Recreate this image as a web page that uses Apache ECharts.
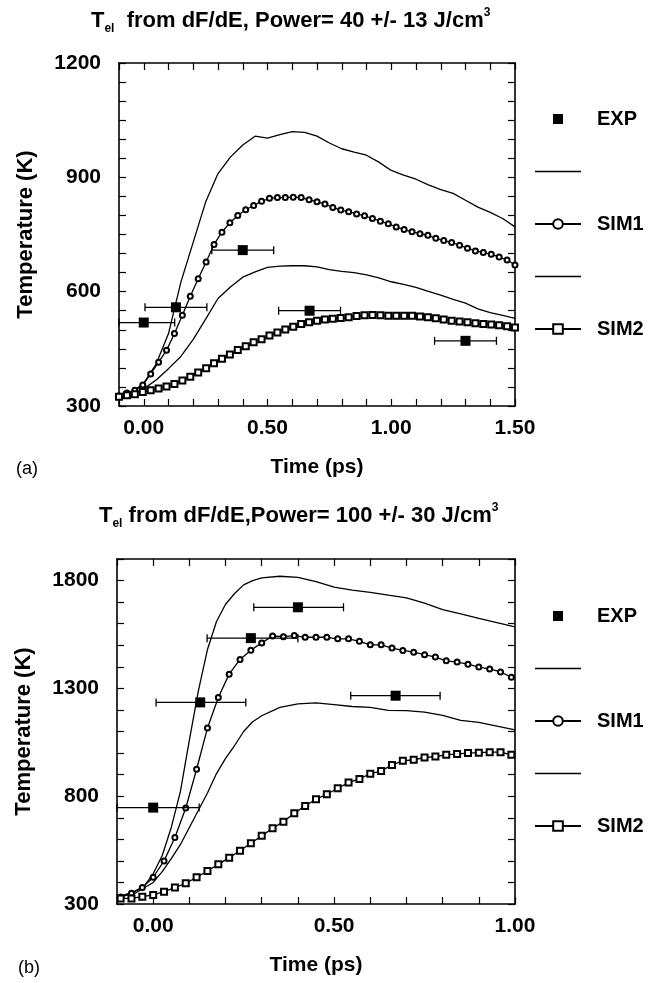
<!DOCTYPE html>
<html>
<head>
<meta charset="utf-8">
<script src="https://cdn.jsdelivr.net/npm/echarts@6/dist/echarts.min.js"></script>
<style>html,body{margin:0;background:#fff}#chart{width:650px;height:983px}</style>
</head>
<body>
<div id="chart"></div>
<script>
// ---- panel (a): Power = 40 +/- 13 J/cm3 ----
const aExpT    = [0.00, 0.13, 0.40, 0.67, 1.30];
const aExpTemp = [519, 559, 709, 550, 471];
const aExpLow  = [-0.10, 0.005, 0.275, 0.545, 1.175];
const aExpHigh = [0.125, 0.255, 0.525, 0.795, 1.425];

const aUpperT = [-0.1,-0.05,0,0.05,0.1,0.15,0.2,0.25,0.3,0.35,0.4,0.45,0.5,0.55,0.6,0.65,0.7,0.75,0.8,0.85,0.9,0.95,1.0,1.05,1.1,1.15,1.2,1.25,1.3,1.35,1.4,1.45,1.5];
const aUpper  = [325,335,360,410,490,625,730,835,910,953,985,1008,1003,1012,1020,1018,1008,990,975,966,958,940,918,906,895,880,868,858,840,822,808,792,770];
const aLowerT = aUpperT;
const aLower  = [322,330,345,368,398,430,475,528,582,612,638,652,664,667,668,668,665,658,653,650,644,636,626,619,611,601,591,580,570,555,545,538,530];

const aSimT = [-0.1,-0.068,-0.036,-0.004,0.028,0.06,0.092,0.124,0.156,0.188,0.22,0.252,0.284,0.316,0.348,0.38,0.412,0.444,0.476,0.508,0.54,0.572,0.604,0.636,0.668,0.7,0.732,0.764,0.796,0.828,0.86,0.892,0.924,0.956,0.988,1.02,1.052,1.084,1.116,1.148,1.18,1.212,1.244,1.276,1.308,1.34,1.372,1.404,1.436,1.468,1.5];
const aSim1 = [326,334,341,355,384,415,446,490,538,588,634,678,724,756,781,800,815,826,837,845,847,847,848,847,841,836,830,821,814,810,804,799,792,785,778,770,763,757,752,748,740,734,729,722,714,707,703,698,691,683,670];
const aSim2 = [324,328,331,337,341,346,351,358,367,377,388,399,412,424,435,447,457,467,475,485,493,501,508,515,520,524,527,529,531,533,536,538,539,538,537,537,537,537,535,533,530,527,524,522,520,517,515,514,512,509,506];

// ---- panel (b): Power = 100 +/- 30 J/cm3 ----
const bExpT    = [0.00, 0.13, 0.27, 0.40, 0.67];
const bExpTemp = [747, 1235, 1533, 1676, 1266];
const bExpLow  = [-0.10, 0.008, 0.149, 0.278, 0.546];
const bExpHigh = [0.127, 0.256, 0.400, 0.526, 0.793];

const bUpperT = [-0.1,-0.075,-0.05,-0.025,0,0.025,0.05,0.075,0.1,0.125,0.15,0.175,0.2,0.225,0.25,0.275,0.3,0.35,0.4,0.45,0.5,0.55,0.6,0.65,0.7,0.75,0.8,0.85,0.9,0.95,1.0];
const bUpper  = [330,345,360,383,440,525,655,820,1060,1290,1480,1610,1690,1740,1780,1800,1812,1820,1815,1795,1770,1756,1745,1732,1720,1695,1665,1645,1625,1605,1585];
const bLowerT = [-0.1,-0.05,0,0.025,0.05,0.075,0.1,0.125,0.15,0.175,0.2,0.225,0.25,0.275,0.3,0.35,0.4,0.45,0.5,0.55,0.6,0.65,0.7,0.75,0.8,0.85,0.9,0.95,1.0];
const bLower  = [330,350,400,450,510,575,655,735,815,905,975,1035,1100,1145,1173,1212,1228,1233,1225,1216,1212,1198,1197,1190,1175,1152,1142,1125,1108];

const bSimT = [-0.09,-0.06,-0.03,0,0.03,0.06,0.09,0.12,0.15,0.18,0.21,0.24,0.27,0.30,0.33,0.36,0.39,0.42,0.45,0.48,0.51,0.54,0.57,0.60,0.63,0.66,0.69,0.72,0.75,0.78,0.81,0.84,0.87,0.90,0.93,0.96,0.99];
const bSim1 = [332,350,376,424,500,608,745,925,1116,1258,1366,1434,1477,1511,1543,1540,1545,1537,1537,1537,1530,1530,1518,1502,1502,1487,1476,1468,1456,1445,1428,1422,1412,1399,1390,1376,1352];
const bSim2 = [326,326,334,342,357,376,396,424,453,484,515,547,582,616,651,682,721,755,786,809,837,863,880,904,917,945,964,969,979,984,992,996,1000,1002,1004,1004,992];

const FONT = 'Liberation Sans, Arial, Helvetica, sans-serif';
const lineIcon = 'path://M0,0H46V1.3H0Z';
const expIcon = 'path://M0,0L0,0ZM1,1H11V11H1ZM12,12L12,12Z';

function pairs(xs, ys) { return xs.map((x, i) => [x, ys[i]]); }

function expRender(params, api) {
  const y = api.value(1);
  const p = api.coord([api.value(0), y]);
  const l = api.coord([api.value(2), y]);
  const h = api.coord([api.value(3), y]);
  const st = { stroke: '#000', lineWidth: 1.3 };
  return {
    type: 'group',
    children: [
      { type: 'line', shape: { x1: l[0], y1: l[1], x2: h[0], y2: h[1] }, style: st },
      { type: 'line', shape: { x1: l[0], y1: l[1] - 4, x2: l[0], y2: l[1] + 4 }, style: st },
      { type: 'line', shape: { x1: h[0], y1: h[1] - 4, x2: h[0], y2: h[1] + 4 }, style: st },
      { type: 'rect', shape: { x: p[0] - 5, y: p[1] - 5, width: 10, height: 10 }, style: { fill: '#000' } }
    ]
  };
}

const labelStyle = { color: '#000', fontFamily: FONT, fontWeight: 'bold', fontSize: 21 };
const axLine = { show: true, onZero: false, lineStyle: { color: '#000', width: 1.6 } };
const axTick = { show: true, inside: true, length: 7, lineStyle: { color: '#000', width: 1.2 } };

function xLabel(v) {
  const r = Math.round(v * 100);
  return r % 50 === 0 ? (r / 100).toFixed(2) : '';
}

function xAxes(gi, max) {
  return [
    { gridIndex: gi, type: 'value', min: -0.1, max: max, interval: 0.1, position: 'bottom',
      axisLine: axLine, axisTick: axTick, splitLine: { show: false },
      axisLabel: Object.assign({ margin: 12, formatter: xLabel }, labelStyle),
      name: 'Time (ps)', nameLocation: 'middle', nameGap: 51,
      nameTextStyle: { color: '#000', fontFamily: FONT, fontWeight: 'bold', fontSize: 21 } },
    { gridIndex: gi, type: 'value', min: -0.1, max: max, interval: 0.1, position: 'top',
      axisLine: axLine, axisTick: axTick, splitLine: { show: false }, axisLabel: { show: false } }
  ];
}

function yAxes(gi, max, interval, step) {
  return [
    { gridIndex: gi, type: 'value', min: 300, max: max, interval: interval, position: 'left',
      axisLine: axLine, axisTick: axTick, splitLine: { show: false },
      axisLabel: Object.assign({ margin: 18,
        formatter: v => ((v - 300) % step === 0 ? String(v) : '') }, labelStyle),
      name: 'Temperature (K)', nameLocation: 'middle', nameGap: 82,
      nameTextStyle: { color: '#000', fontFamily: FONT, fontWeight: 'bold', fontSize: 22 } },
    { gridIndex: gi, type: 'value', min: 300, max: max, interval: interval, position: 'right',
      axisLine: axLine, axisTick: axTick, splitLine: { show: false }, axisLabel: { show: false } }
  ];
}

function panelSeries(ax, d) {
  const lineStyle = { color: '#000', width: 1.3 };
  return [
    { name: 'EXP', type: 'custom', xAxisIndex: ax, yAxisIndex: ax, renderItem: expRender,
      itemStyle: { color: '#000' }, encode: { x: 0, y: 1 },
      data: d.expT.map((t, i) => [t, d.expTemp[i], d.expLow[i], d.expHigh[i]]), z: 5 },
    { name: ' ', type: 'line', xAxisIndex: ax, yAxisIndex: ax, symbol: 'none',
      itemStyle: { color: '#000' }, lineStyle: lineStyle, data: pairs(d.upperT, d.upper) },
    { name: 'SIM1', type: 'line', xAxisIndex: ax, yAxisIndex: ax, symbol: 'emptyCircle', symbolSize: 5,
      itemStyle: { color: '#000', borderWidth: 2 }, lineStyle: lineStyle, data: pairs(d.simT, d.sim1) },
    { name: '  ', type: 'line', xAxisIndex: ax, yAxisIndex: ax, symbol: 'none',
      itemStyle: { color: '#000' }, lineStyle: lineStyle, data: pairs(d.lowerT, d.lower) },
    { name: 'SIM2', type: 'line', xAxisIndex: ax, yAxisIndex: ax, symbol: 'emptyRect', symbolSize: 6,
      itemStyle: { color: '#000', borderWidth: 1.2 }, lineStyle: lineStyle, data: pairs(d.simT, d.sim2) }
  ];
}

function legend(top) {
  return {
    orient: 'vertical', left: 534, top: top, padding: 0, selectedMode: false,
    itemWidth: 46, itemHeight: 12, itemGap: 32.5,
    textStyle: { color: '#000', fontFamily: FONT, fontWeight: 'bold', fontSize: 20, lineHeight: 20, padding: [0, 0, 0, 11] },
    data: [{ name: 'EXP', icon: expIcon }, { name: ' ', icon: lineIcon }, { name: 'SIM1' },
           { name: '  ', icon: lineIcon }, { name: 'SIM2' }]
  };
}

function title(rest, left, top) {
  return {
    text: '{t|T}{s|el}{t|' + rest + '}{p|3}', left: left, top: top,
    textStyle: {
      rich: {
        t: { fontFamily: FONT, fontWeight: 'bold', fontSize: 22, color: '#000', lineHeight: 28 },
        s: { fontFamily: FONT, fontWeight: 'bold', fontSize: 12, color: '#000', lineHeight: 28, verticalAlign: 'bottom' },
        p: { fontFamily: FONT, fontWeight: 'bold', fontSize: 12, color: '#000', lineHeight: 28, verticalAlign: 'top' }
      }
    }
  };
}

const chart = echarts.init(document.getElementById('chart'));
chart.setOption({
  animation: false,
  backgroundColor: '#fff',
  title: [
    title('  from dF/dE, Power= 40 +/- 13 J/cm', 86, 2),
    title(' from dF/dE,Power= 100 +/- 30 J/cm', 94, 497),
    { text: '(a)', left: 11, top: 455, textStyle: { fontFamily: FONT, fontWeight: 'normal', fontSize: 18, color: '#000' } },
    { text: '(b)', left: 13, top: 954, textStyle: { fontFamily: FONT, fontWeight: 'normal', fontSize: 18, color: '#000' } }
  ],
  legend: [legend(109), legend(606)],
  grid: [
    { left: 119, top: 63, width: 396, height: 343 },
    { left: 117, top: 559, width: 398, height: 345 }
  ],
  xAxis: xAxes(0, 1.5).concat(xAxes(1, 1.0)),
  yAxis: yAxes(0, 1200, 50, 300).concat(yAxes(1, 1900, 100, 500)),
  series: panelSeries(0, { expT: aExpT, expTemp: aExpTemp, expLow: aExpLow, expHigh: aExpHigh,
      upperT: aUpperT, upper: aUpper, lowerT: aLowerT, lower: aLower, simT: aSimT, sim1: aSim1, sim2: aSim2 })
    .concat(panelSeries(2, { expT: bExpT, expTemp: bExpTemp, expLow: bExpLow, expHigh: bExpHigh,
      upperT: bUpperT, upper: bUpper, lowerT: bLowerT, lower: bLower, simT: bSimT, sim1: bSim1, sim2: bSim2 }))
});
</script>
</body>
</html>
